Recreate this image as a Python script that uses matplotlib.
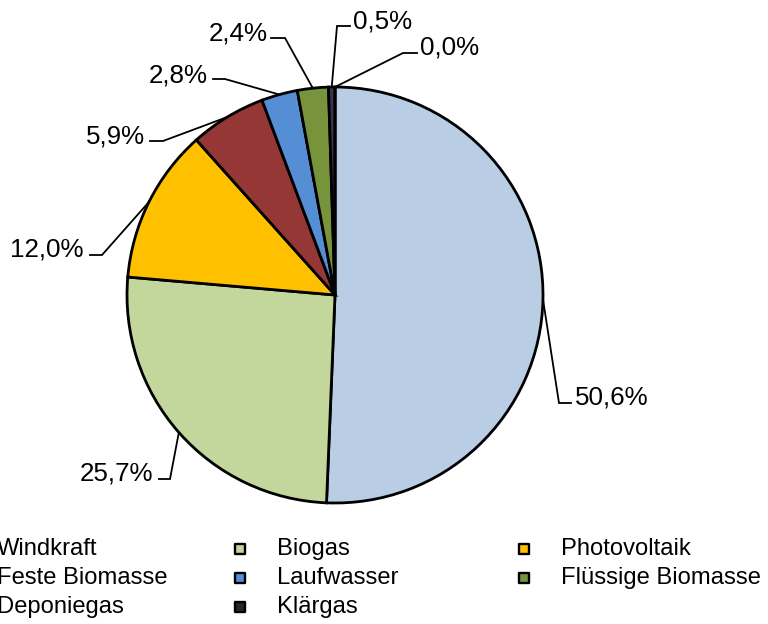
import matplotlib
matplotlib.use("Agg")
import matplotlib.pyplot as plt
import numpy as np

categories = ["Windkraft", "Biogas", "Photovoltaik", "Feste Biomasse", "Laufwasser",
              "Flüssige Biomasse", "Deponiegas", "Klärgas"]
values = [50.6, 25.7, 12.0, 5.9, 2.8, 2.4, 0.5, 0.0]
colors = ["#B9CDE5", "#C3D69B", "#FFC000", "#953735", "#558ED5", "#77933C", "#403152", "#262626"]

plt.rcParams['font.family'] = ['Liberation Sans', 'DejaVu Sans']

W, H = 768, 624
fig = plt.figure(figsize=(W / 100, H / 100), dpi=100)
ax = fig.add_axes([0, 0, 1, 1])

CX, CY, R = 335.0, 295.0, 208.0


def P(px, py):
    return ((px - CX) / R, (CY - py) / R)


wedges, _ = ax.pie(values, colors=colors, startangle=90, counterclock=False, radius=1.0,
                   wedgeprops=dict(edgecolor="black", linewidth=2.0))

ax.set_xlim(-CX / R, (W - CX) / R)
ax.set_ylim((CY - H) / R, CY / R)
ax.set_aspect("equal")
ax.axis("off")

# label layout: (elbow px, horizontal end px, text x px, baseline px, ha)
label_layout = [
    ((559, 403), (571, 403), 575, 404, "left"),
    ((170, 479), (159, 479), 153, 480, "right"),
    ((102, 255), (90, 255), 84, 256, "right"),
    ((163, 141), (150, 141), 145, 143, "right"),
    ((225, 79), (213, 79), 208, 82, "right"),
    ((285, 38), (271, 38), 268, 40, "right"),
    ((337, 26), (350, 26), 353, 28, "left"),
    ((403, 53), (417, 53), 420, 54, "left"),
]

for w, v, (elb, hend, tx, ty, ha) in zip(wedges, values, label_layout):
    th = np.deg2rad((w.theta1 + w.theta2) / 2)
    ax0, ay0 = np.cos(th), np.sin(th)
    ex, ey = P(*elb)
    hx, hy = P(*hend)
    ax.plot([ax0, ex, hx], [ay0, ey, hy], color="black", lw=1.3, solid_joinstyle="miter")
    x, y = P(tx, ty)
    ax.text(x, y, f"{v:.1f}%".replace(".", ","), ha=ha, va="baseline", fontsize=18.7)

# legend (3 columns, row-major)
text_cols = [-3, 277, 561]
row_base = [555, 584, 613]
for i, (name, col) in enumerate(zip(categories, colors)):
    c, r = i % 3, i // 3
    tx = text_cols[c]
    mx, my = P(tx - 37, row_base[r] - 6)
    ax.scatter([mx], [my], marker="s", s=58, color=col, edgecolor="black", linewidth=1.7,
               clip_on=False, zorder=3)
    x, y = P(tx, row_base[r])
    ax.text(x, y, name, ha="left", va="baseline", fontsize=17.1)

fig.savefig("out.png", dpi=100)
